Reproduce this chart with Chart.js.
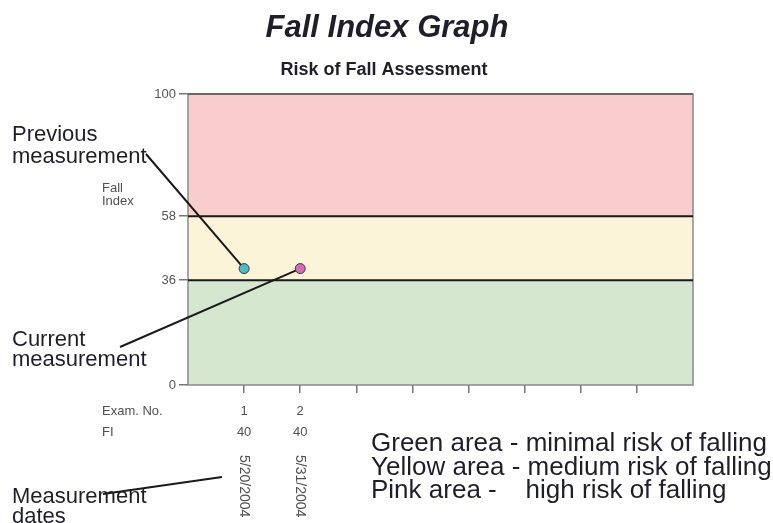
<!DOCTYPE html>
<html>
<head>
<meta charset="utf-8">
<script src="https://cdn.jsdelivr.net/npm/chart.js@4.4.1/dist/chart.umd.min.js"></script>
<style>
  html, body { margin: 0; padding: 0; background: #fff; }
  #wrap { width: 773px; height: 523px; position: relative; }
</style>
</head>
<body>
<div id="wrap"><canvas id="c" width="773" height="523"></canvas></div>
<script>
// ---- data ----
const examNo = [1, 2];
const fallIndex = [40, 40];
const examDates = ['5/20/2004', '5/31/2004'];
const yTickValues = [0, 36, 58, 100];
const xTickValues = [1, 2, 3, 4, 5, 6, 7, 8];
const bandLimits = [0, 36, 58, 100];
const legendLines = [
  'Green area - minimal risk of falling',
  'Yellow area - medium risk of falling',
  'Pink area -    high risk of falling'
];

// ---- styles ----
const bandColors = ['#d5e8cf', '#fbf4d8', '#f9cdcc'];
const pointColors = ['#43bfc9', '#d66cb8'];
const TEXT = '#1f1f2a';
const SMALL = '#505050';
const FONT = '"Liberation Sans", Arial, Helvetica, sans-serif';

const decorPlugin = {
  id: 'decor',
  beforeDatasetsDraw(chart) {
    const { ctx, chartArea: a, scales: { x, y } } = chart;
    ctx.save();
    for (let i = 0; i < bandLimits.length - 1; i++) {
      const yTop = y.getPixelForValue(bandLimits[i + 1]);
      const yBot = y.getPixelForValue(bandLimits[i]);
      ctx.fillStyle = bandColors[i];
      ctx.fillRect(a.left, yTop, a.right - a.left, yBot - yTop);
    }
    ctx.strokeStyle = '#8a8a8a';
    ctx.lineWidth = 1.5;
    ctx.strokeRect(a.left, a.top, a.right - a.left, a.bottom - a.top);
    ctx.strokeStyle = '#555';
    ctx.beginPath();
    ctx.moveTo(a.left, y.getPixelForValue(bandLimits[3]));
    ctx.lineTo(a.right, y.getPixelForValue(bandLimits[3]));
    ctx.stroke();
    ctx.strokeStyle = '#1a1a1a';
    ctx.lineWidth = 2;
    [bandLimits[1], bandLimits[2]].forEach(v => {
      const py = y.getPixelForValue(v);
      ctx.beginPath();
      ctx.moveTo(a.left, py);
      ctx.lineTo(a.right, py);
      ctx.stroke();
    });
    const p1x = x.getPixelForValue(examNo[0]), p1y = y.getPixelForValue(fallIndex[0]);
    const p2x = x.getPixelForValue(examNo[1]), p2y = y.getPixelForValue(fallIndex[1]);
    ctx.beginPath();
    ctx.moveTo(146, 154); ctx.lineTo(p1x, p1y);
    ctx.moveTo(120, 347); ctx.lineTo(p2x, p2y);
    ctx.moveTo(103, 494); ctx.lineTo(222, 477);
    ctx.stroke();
    ctx.restore();
  },
  afterDraw(chart) {
    const { ctx, scales: { x } } = chart;
    ctx.save();
    ctx.fillStyle = TEXT;
    ctx.textBaseline = 'middle';
    ctx.textAlign = 'center';
    ctx.font = 'italic bold 31px ' + FONT;
    ctx.fillText('Fall Index Graph', 387, 28);
    ctx.font = 'bold 18px ' + FONT;
    ctx.fillText('Risk of Fall Assessment', 384, 70);
    ctx.textAlign = 'left';
    ctx.font = '22px ' + FONT;
    ctx.fillText('Previous', 12, 135);
    ctx.fillText('measurement', 12, 157);
    ctx.fillText('Current', 12, 340);
    ctx.fillText('measurement', 12, 360);
    ctx.fillText('Measurement', 12, 497);
    ctx.fillText('dates', 12, 517);
    ctx.font = '26px ' + FONT;
    legendLines.forEach((t, i) => ctx.fillText(t, 371, 444 + i * 23.5));
    ctx.fillStyle = SMALL;
    ctx.font = '13px ' + FONT;
    ctx.fillText('Fall', 102, 188);
    ctx.fillText('Index', 102, 201);
    ctx.fillText('Exam. No.', 102, 411);
    ctx.fillText('FI', 102, 432);
    ctx.textAlign = 'center';
    examNo.forEach((n, i) => {
      const px = x.getPixelForValue(n);
      ctx.fillText(String(n), px, 411);
      ctx.fillText(String(fallIndex[i]), px, 432);
      ctx.save();
      ctx.translate(px, 455);
      ctx.rotate(Math.PI / 2);
      ctx.textAlign = 'left';
      ctx.font = '14px ' + FONT;
      ctx.fillText(examDates[i], 0, 0);
      ctx.restore();
    });
    ctx.restore();
  }
};

new Chart(document.getElementById('c'), {
  type: 'scatter',
  data: {
    datasets: [{
      data: examNo.map((n, i) => ({ x: n, y: fallIndex[i] })),
      pointBackgroundColor: pointColors,
      pointBorderColor: '#3a3a3a',
      pointBorderWidth: 1,
      pointRadius: 5,
      showLine: false
    }]
  },
  options: {
    responsive: false,
    animation: false,
    devicePixelRatio: 1,
    layout: { padding: { top: 94, right: 80, bottom: 0, left: 0 } },
    plugins: { legend: { display: false }, tooltip: { enabled: false }, title: { display: false } },
    scales: {
      x: {
        type: 'linear',
        min: 0, max: 9,
        afterBuildTicks: axis => { axis.ticks = xTickValues.map(v => ({ value: v })); },
        afterFit: axis => { axis.height = 138; },
        ticks: { display: false },
        grid: { display: true, drawOnChartArea: false, drawTicks: true, tickLength: 8, color: '#777', lineWidth: 1.5 },
        border: { display: false }
      },
      y: {
        min: 0, max: 100,
        afterBuildTicks: axis => { axis.ticks = yTickValues.map(v => ({ value: v })); },
        afterFit: axis => { axis.width = 188; },
        ticks: { color: '#555', font: { size: 13, family: FONT }, padding: 3, autoSkip: false },
        grid: { display: true, drawOnChartArea: false, drawTicks: true, tickLength: 9, color: '#777', lineWidth: 1.5 },
        border: { display: false }
      }
    }
  },
  plugins: [decorPlugin]
});
</script>
</body>
</html>
